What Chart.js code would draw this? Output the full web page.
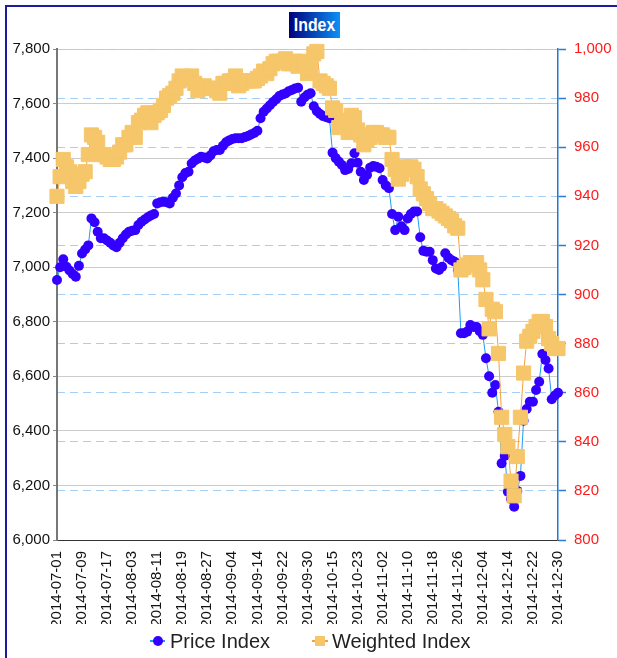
<!DOCTYPE html>
<html>
<head>
<meta charset="utf-8">
<script src="https://cdn.jsdelivr.net/npm/chart.js@4.4.1/dist/chart.umd.min.js"></script>
<style>
  html, body { margin: 0; padding: 0; background: #fff; overflow: hidden; }
  #wrap { position: relative; width: 617px; height: 658px; font-family: "Liberation Sans", Arial, sans-serif; }
  #frame { position: absolute; left: 5px; top: 5px; width: 700px; height: 700px; border: 2px solid #1c1c9e; pointer-events: none; }
  #title { position: absolute; left: 289px; top: 12px; width: 51px; height: 26px;
    background: linear-gradient(to right, #00007c, #0c90f6); color: #fff;
    font-weight: bold; font-size: 18px; line-height: 26px; text-align: center; }
  #title span { display: inline-block; transform: scaleX(0.88); }
  canvas { position: absolute; left: 0; top: 0; }
  .lg-text { position: absolute; top: 629px; font-size: 20px; line-height: 24px; color: #222; white-space: nowrap; }
  .lg-line { position: absolute; top: 640px; height: 2px; }
  .lg-dot { position: absolute; top: 636px; width: 10px; height: 10px; border-radius: 50%; background: #3300ff; }
  .lg-sq { position: absolute; top: 636px; width: 10px; height: 10px; background: #f6c66a; }
</style>
</head>
<body>
<div id="wrap">
  <canvas id="chart" width="617" height="658"></canvas>
  <div id="frame"></div>
  <div id="title"><span>Index</span></div>
  <div class="lg-line" style="left:150px; width:15px; background:#1e9bf0"></div>
  <div class="lg-dot" style="left:153px"></div>
  <div class="lg-text" style="left:170px">Price Index</div>
  <div class="lg-line" style="left:312px; width:16px; background:#f4a13f"></div>
  <div class="lg-sq" style="left:315px"></div>
  <div class="lg-text" style="left:332px">Weighted Index</div>
</div>
<script>
// ========== DATOS ==========
const dates = [
  "2014-07-01","2014-07-02","2014-07-03","2014-07-04","2014-07-05","2014-07-06","2014-07-07","2014-07-08",
  "2014-07-09","2014-07-10","2014-07-11","2014-07-12","2014-07-13","2014-07-14","2014-07-15","2014-07-16",
  "2014-07-17","2014-07-18","2014-07-19","2014-07-20","2014-07-21","2014-07-22","2014-07-23","2014-07-24",
  "2014-08-03","2014-08-04","2014-08-05","2014-08-06","2014-08-07","2014-08-08","2014-08-09","2014-08-10",
  "2014-08-11","2014-08-12","2014-08-13","2014-08-14","2014-08-15","2014-08-16","2014-08-17","2014-08-18",
  "2014-08-19","2014-08-20","2014-08-21","2014-08-22","2014-08-23","2014-08-24","2014-08-25","2014-08-26",
  "2014-08-27","2014-08-28","2014-08-29","2014-08-30","2014-08-31","2014-09-01","2014-09-02","2014-09-03",
  "2014-09-04","2014-09-05","2014-09-08","2014-09-09","2014-09-10","2014-09-11","2014-09-12","2014-09-13",
  "2014-09-14","2014-09-15","2014-09-16","2014-09-17","2014-09-18","2014-09-19","2014-09-20","2014-09-21",
  "2014-09-22","2014-09-23","2014-09-24","2014-09-25","2014-09-26","2014-09-27","2014-09-28","2014-09-29",
  "2014-09-30","2014-10-08","2014-10-09","2014-10-10","2014-10-11","2014-10-12","2014-10-13","2014-10-14",
  "2014-10-15","2014-10-16","2014-10-17","2014-10-18","2014-10-19","2014-10-20","2014-10-21","2014-10-22",
  "2014-10-23","2014-10-24","2014-10-27","2014-10-28","2014-10-29","2014-10-30","2014-10-31","2014-11-01",
  "2014-11-02","2014-11-03","2014-11-04","2014-11-05","2014-11-06","2014-11-07","2014-11-08","2014-11-09",
  "2014-11-10","2014-11-11","2014-11-12","2014-11-13","2014-11-14","2014-11-15","2014-11-16","2014-11-17",
  "2014-11-18","2014-11-19","2014-11-20","2014-11-21","2014-11-22","2014-11-23","2014-11-24","2014-11-25",
  "2014-11-26","2014-11-27","2014-11-28","2014-11-29","2014-11-30","2014-12-01","2014-12-02","2014-12-03",
  "2014-12-04","2014-12-05","2014-12-08","2014-12-09","2014-12-10","2014-12-11","2014-12-12","2014-12-13",
  "2014-12-14","2014-12-15","2014-12-16","2014-12-17","2014-12-18","2014-12-19","2014-12-20","2014-12-21",
  "2014-12-22","2014-12-23","2014-12-24","2014-12-25","2014-12-26","2014-12-27","2014-12-28","2014-12-29",
  "2014-12-30"
];

const priceIndex = [
  6953, 7000, 7029, 7002, 6988, 6975, 6965, 7005, 7050, 7065,
  7080, 7179, 7165, 7130, 7106, 7106, 7098, 7090, 7080, 7073,
  7090, 7106, 7120, 7130, 7134, 7136, 7155, 7167, 7175, 7183,
  7190, 7195, 7234, 7238, 7240, 7238, 7234, 7255, 7270, 7300,
  7330, 7345, 7350, 7380, 7391, 7398, 7405, 7402, 7399, 7410,
  7425, 7430, 7430, 7445, 7458, 7465, 7470, 7473, 7473, 7473,
  7477, 7481, 7487, 7492, 7500, 7546, 7570, 7582, 7594, 7606,
  7616, 7628, 7633, 7637, 7645, 7650, 7655, 7658, 7607, 7622,
  7632, 7638, 7590, 7572, 7562, 7554, 7550, 7546, 7420, 7400,
  7387, 7375, 7356, 7360, 7381, 7418, 7383, 7350, 7320, 7338,
  7365, 7371, 7368, 7363, 7320, 7300, 7290, 7195, 7136, 7185,
  7150, 7136, 7179, 7195, 7204, 7204, 7110, 7060, 7057, 7057,
  7026, 6995, 6990, 7002, 7051, 7035, 7026, 7020, 6990, 6758,
  6758, 6764, 6788, 6781, 6781, 6765, 6752, 6666, 6600, 6540,
  6568, 6470, 6281, 6308, 6177, 6150, 6122, 6180, 6235, 6437,
  6480, 6507, 6507, 6550, 6580, 6682, 6660, 6629, 6516, 6530,
  6540
];

const weightedIndex = [
  940, 948, 955, 952, 950, 946, 944, 946, 949, 950,
  957, 965, 964, 962, 957, 957, 956, 955, 955, 956,
  958, 961, 961, 964, 966, 964, 970, 971, 973, 974,
  970, 973, 974, 975, 977, 980, 981, 982, 984, 987,
  989, 988, 988, 989, 986, 983, 984, 985, 984, 984,
  984, 983, 982, 986, 986, 987, 987, 989, 985, 986,
  987, 987, 987, 987, 988, 989, 991, 990, 992, 994,
  995, 995, 995, 996, 994, 994, 995, 993, 995, 994,
  990, 992, 998, 999, 987, 986, 985, 984, 976, 975,
  968, 970, 971, 966, 973, 972, 967, 965, 961, 963,
  964, 966, 966, 965, 965, 964, 964, 955, 951, 947,
  949, 952, 951, 952, 951, 948, 943, 941, 939, 937,
  935, 935, 934, 933, 932, 931, 930, 928, 927, 910,
  911, 912, 913, 913, 913, 910, 906, 898, 886, 894,
  893, 876, 850, 843, 838, 824, 818, 834, 850, 868,
  881, 883, 885, 887, 889, 889, 887, 882, 880, 878,
  878
];

// etiquetas visibles del eje X
const shownDates = [
  "2014-07-01","2014-07-09","2014-07-17","2014-08-03","2014-08-11","2014-08-19","2014-08-27",
  "2014-09-04","2014-09-14","2014-09-22","2014-09-30","2014-10-15","2014-10-23","2014-11-02",
  "2014-11-10","2014-11-18","2014-11-26","2014-12-04","2014-12-14","2014-12-22","2014-12-30"
];
const leftTicks = [6000, 6200, 6400, 6600, 6800, 7000, 7200, 7400, 7600, 7800];
const rightTicks = [800, 820, 840, 860, 880, 900, 920, 940, 960, 980, 1000];

// ========== GRÁFICO ==========
Chart.defaults.font.family = '"Liberation Sans", Arial, sans-serif';

const ctx = document.getElementById("chart").getContext("2d");
new Chart(ctx, {
  type: "line",
  data: {
    labels: dates,
    datasets: [{
      label: "Price Index",
      data: priceIndex,
      yAxisID: "y",
      borderColor: "#1e9bf0",
      borderWidth: 1,
      pointStyle: "circle",
      pointRadius: 5,
      pointBackgroundColor: "#3300ff",
      pointBorderColor: "#3300ff",
      pointBorderWidth: 0,
      clip: false,
      order: 2,
    }, {
      label: "Weighted Index",
      data: weightedIndex,
      yAxisID: "y1",
      borderColor: "#f4a13f",
      borderWidth: 1,
      pointStyle: "rect",
      pointRadius: 10,
      pointBackgroundColor: "#f6c66a",
      pointBorderColor: "#f6c66a",
      pointBorderWidth: 1,
      clip: false,
      order: 1,
    }],
  },
  options: {
    responsive: false,
    animation: false,
    devicePixelRatio: 1,
    layout: { padding: { left: 12, right: 3, top: 49, bottom: 34 } },
    plugins: {
      title: { display: false },
      tooltip: { enabled: false },
      legend: { display: false },
    },
    scales: {
      x: {
        grid: { display: false },
        border: { display: true, color: "#333", width: 1 },
        afterFit: (s) => { s.height = 84; s.paddingLeft = 0; s.paddingRight = 0; },
        ticks: {
          autoSkip: false,
          minRotation: 90,
          maxRotation: 90,
          padding: 3,
          color: "#111",
          font: { size: 15 },
          callback: (v, i) => shownDates.includes(dates[i]) ? dates[i] : "",
        },
      },
      y: {
        position: "left",
        min: leftTicks[0],
        max: leftTicks[leftTicks.length - 1],
        afterBuildTicks: (s) => { s.ticks = leftTicks.map((v) => ({ value: v })); },
        afterFit: (s) => { s.width = 45; s.paddingTop = 0; s.paddingBottom = 0; },
        grid: { color: "#cccccc", lineWidth: 1, tickLength: 4, tickColor: "#888" },
        border: { color: "#777", width: 2 },
        ticks: { color: "#111", font: { size: 15 }, padding: 3 },
      },
      y1: {
        position: "right",
        min: rightTicks[0],
        max: rightTicks[rightTicks.length - 1],
        afterBuildTicks: (s) => { s.ticks = rightTicks.map((v) => ({ value: v })); },
        afterFit: (s) => { s.width = 56; s.paddingTop = 0; s.paddingBottom = 0; },
        grid: { color: "#a6cff6", lineWidth: 1, tickLength: 8, tickColor: "#2a7ad6", tickWidth: 1.5 },
        border: { color: "#1f78d6", width: 1.5, dash: [8, 5] },
        ticks: { color: "#ff1a1a", font: { size: 15 }, padding: 8 },
      },
    },
  },
});
</script>
</body>
</html>
